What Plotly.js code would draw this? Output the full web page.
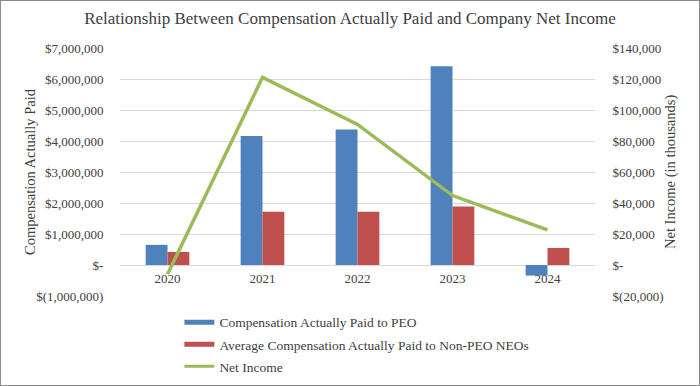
<!DOCTYPE html>
<html><head><meta charset="utf-8">
<script src="https://cdn.plot.ly/plotly-3.0.1.min.js"></script>
<style>html,body{margin:0;padding:0;background:#fff}#c{width:698px;height:384px;border:1px solid #8c8c8c}</style>
</head><body><div id="c"></div>
<script>
const years = ['2020','2021','2022','2023','2024'];
const peoCAP = [650000, 4160000, 4370000, 6410000, -340000];
const neoCAP = [420000, 1720000, 1720000, 1890000, 550000];
const netIncome = [-6000, 121000, 90700, 44800, 22700];
const leftTicks = [-1000000,0,1000000,2000000,3000000,4000000,5000000,6000000,7000000];
const leftLabels = ['$(1,000,000)','$-','$1,000,000','$2,000,000','$3,000,000','$4,000,000','$5,000,000','$6,000,000','$7,000,000'];
const rightTicks = [-20000,0,20000,40000,60000,80000,100000,120000,140000];
const rightLabels = ['$(20,000)','$-','$20,000','$40,000','$60,000','$80,000','$100,000','$120,000','$140,000'];

const fam = 'Liberation Serif';
const font = {family:fam, color:'#404040', size:13};
const names = ['Compensation Actually Paid to PEO','Average Compensation Actually Paid to Non-PEO NEOs','Net Income'];
const traces = [
 {type:'bar', name:names[0], x:years, y:peoCAP, marker:{color:'#4F81BD'}, showlegend:false},
 {type:'bar', name:names[1], x:years, y:neoCAP, marker:{color:'#C0504D'}, showlegend:false},
 {type:'scatter', mode:'lines', name:names[2], x:years, y:netIncome, yaxis:'y2', line:{color:'#9BBB59', width:3.5}, showlegend:false},
 {type:'scatter', mode:'lines', name:names[0], legendgroup:'a', x:[years[0]], y:[null], line:{color:'#4F81BD', width:5}},
 {type:'scatter', mode:'lines', name:names[1], legendgroup:'b', x:[years[0]], y:[null], line:{color:'#C0504D', width:5}},
 {type:'scatter', mode:'lines', name:names[2], legendgroup:'c', x:[years[0]], y:[null], line:{color:'#9BBB59', width:3}}
];
const layout = {
 width:698, height:384,
 margin:{l:119, r:104, t:47, b:89, autoexpand:false},
 paper_bgcolor:'#fff', plot_bgcolor:'#fff',
 font:font,
 title:{text:'Relationship Between Compensation Actually Paid and Company Net Income', x:0.5, xanchor:'center', y:0.955, yanchor:'middle', font:{family:fam, size:17, color:'#404040'}},
 barmode:'group', bargap:0.54, bargroupgap:0,
 showlegend:true,
 legend:{orientation:'v', x:0.125, xanchor:'left', y:-0.044, yanchor:'top', font:{family:fam, size:13.5, color:'#404040'}, tracegroupgap:1.5, itemwidth:30},
 xaxis:{anchor:'free', position:0.1255, showline:false, ticks:'outside', ticklen:2, tickcolor:'rgba(0,0,0,0)', showgrid:false, zeroline:false, tickfont:font, automargin:false},
 yaxis:{range:[-1000000,7000000], tickvals:leftTicks, ticktext:leftLabels, tickfont:font, gridcolor:'#d9d9d9', zeroline:false, showline:false, ticks:'outside', ticklen:13, tickcolor:'rgba(0,0,0,0)', automargin:false},
 yaxis2:{overlaying:'y', side:'right', range:[-20000,140000], tickvals:rightTicks, ticktext:rightLabels, tickfont:font, showgrid:false, zeroline:false, ticks:'outside', ticklen:14, tickcolor:'rgba(0,0,0,0)', automargin:false},
 annotations:[
  {text:'Compensation Actually Paid', xref:'paper', yref:'paper', x:-90/475, y:0.5, textangle:-90, showarrow:false, xanchor:'center', yanchor:'middle', font:{family:fam, size:14.5, color:'#404040'}},
  {text:'Net Income (in thousands)', xref:'paper', yref:'paper', x:550/475, y:0.5, textangle:-90, showarrow:false, xanchor:'center', yanchor:'middle', font:{family:fam, size:14.5, color:'#404040'}}
 ]
};
Plotly.newPlot('c', traces, layout, {displayModeBar:false, staticPlot:true});
</script></body></html>
